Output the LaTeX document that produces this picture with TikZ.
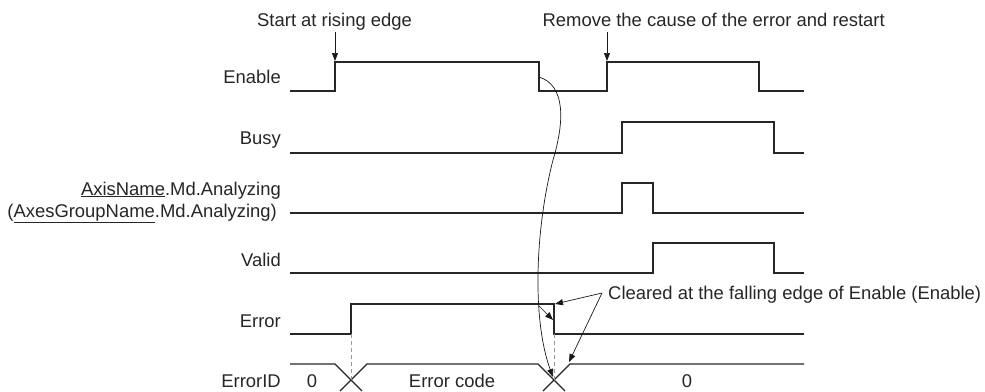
\documentclass[tikz,border=0pt]{standalone}
\usepackage{fontspec}
\setmainfont{Liberation Sans}
\usetikzlibrary{arrows.meta}
\tikzset{
  wave/.style={line width=1.3bp,color=black!85,line join=miter},
  note/.style={-{Triangle[length=8bp,width=6bp]},line width=0.7bp,color=black!90},
  txt/.style={inner sep=0pt,font=\fontsize{18.5}{22}\selectfont,text=black!85},
  sig/.style={txt,anchor=base east},
  guide/.style={gray!80,line width=0.9bp,dash pattern=on 4bp off 3bp}
}
\begin{document}
\begin{tikzpicture}[x=1bp,y=-1bp]
\useasboundingbox (0,0) rectangle (985,391);

\node[sig] (enable) at (281,83) {Enable};
\node[sig] (busy) at (281,144) {Busy};
\node[sig] (axis) at (281,195) {\underline{AxisName}.Md.Analyzing};
\node[sig] (axes) at (277,217) {(\underline{AxesGroupName}.Md.Analyzing)};
\node[sig] (valid) at (281,266) {Valid};
\node[sig] (error) at (281,327) {Error};
\node[sig] (errid) at (281,387) {ErrorID};

\node[txt,anchor=base west] (start) at (257,26) {Start at rising edge};
\node[txt,anchor=base east] (remove) at (885,26) {Remove the cause of the error and restart};
\node[txt,anchor=base west] (cleared) at (608,299) {Cleared at the falling edge of Enable (Enable)};

\node[txt,anchor=base] (v0) at (312,387) {0};
\node[txt,anchor=base] (vcode) at (452,387) {Error code};
\node[txt,anchor=base] (v1) at (687,387) {0};

%%%%%%%% signals
\draw[wave] (290,91) -- (335,91) -- (335,62) -- (539,62) -- (539,91) -- (607,91) -- (607,62) -- (759,62) -- (759,91) -- (804,91);
\draw[wave] (290,153) -- (622,153) -- (622,122) -- (774,122) -- (774,153) -- (804,153);
\draw[wave] (290,213) -- (622,213) -- (622,183) -- (653,183) -- (653,213) -- (804,213);
\draw[wave] (290,273) -- (653,273) -- (653,243) -- (774,243) -- (774,273) -- (804,273);
\draw[wave] (290,334) -- (351,334) -- (351,304) -- (554,304) -- (554,334) -- (804,334);
%%%%%%%% ErrorID
\draw[wave] (290,364) -- (335,364) -- (362,391);
\draw[wave] (340,391) -- (367,364) -- (538,364) -- (565,391);
\draw[wave] (543,391) -- (570,364) -- (804,364);
\draw[guide] (351,334) -- (351,380);
\draw[guide] (554,334) -- (554,380);

\coordinate (rise1) at (335,61);
\coordinate (rise2) at (607,61);
\coordinate (s1) at (335,32);
\coordinate (s2) at (607,32);
\coordinate (fall) at (539,77);
\coordinate (bend) at (553,160);
\coordinate (cross) at (553,377);
\coordinate (fork) at (539,306);
\coordinate (errfall) at (553,320);
\coordinate (clr) at (602,293);
\coordinate (errtop) at (555,304);
\coordinate (idtop) at (569,362);

%%%%%%%% arrows
\path [note] (s1) edge (rise1);
\path [note] (s2) edge (rise2);
\draw [note] (fall) .. controls (565,85) and (565,120) .. (bend) .. controls (535,230) and (532,320) .. (cross);
\path [note] (fork) edge (errfall);
\path [note] (clr) edge (errtop);
\path [note] (clr) edge (idtop);
\end{tikzpicture}
\end{document}
